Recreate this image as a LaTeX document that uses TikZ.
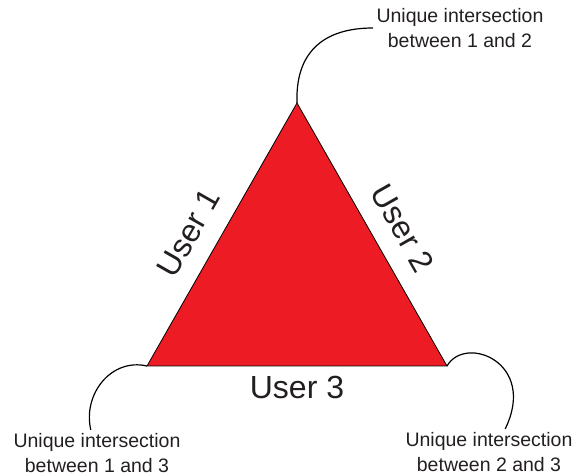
\documentclass[tikz,border=0pt]{standalone}
\usepackage{fontspec}
\setmainfont{Liberation Sans}
\definecolor{userred}{RGB}{237,28,36}
\definecolor{txtgray}{RGB}{35,31,32}
\begin{document}
\begin{tikzpicture}[x=1pt, y=1pt,
    user/.style = {font=\fontsize{32}{38}\selectfont, text=txtgray},
    note/.style = {align=center, font=\fontsize{19.5}{25}\selectfont, text=txtgray},
    callout/.style = {line width=1.2pt, looseness=1.1}]
    \useasboundingbox (0,0) rectangle (573,476);
    \coordinate (t) at (297,373);
    \coordinate (l) at (147,110);
    \coordinate (r) at (447,110);
    \draw[fill=userred, line width=0.8pt] (t) -- (l) -- (r) -- cycle;
    \path (l) -- node[user, sloped, above=15pt, pos=0.45] (u1) {User 1} (t);
    \path (t) -- node[user, sloped, above=15pt, pos=0.533] (u2) {User 2} (r);
    \path (l) -- node[user, below=7pt] (u3) {User 3} (r);
    \node[note] (n12) at (460,448) {Unique intersection\\between 1 and 2};
    \node[note] (n13) at (97,23) {Unique intersection\\between 1 and 3};
    \node[note] (n23) at (489,24) {Unique intersection\\between 2 and 3};
    \draw[callout] (t) to[out=92, in=180, looseness=1.2] (n12.west);
    \draw[callout] (l) to[out=167, in=103] (n13.105);
    \draw[callout] (r) to[out=60, in=64, out looseness=1.1, in looseness=2.2] (n23.55);
\end{tikzpicture}
\end{document}
